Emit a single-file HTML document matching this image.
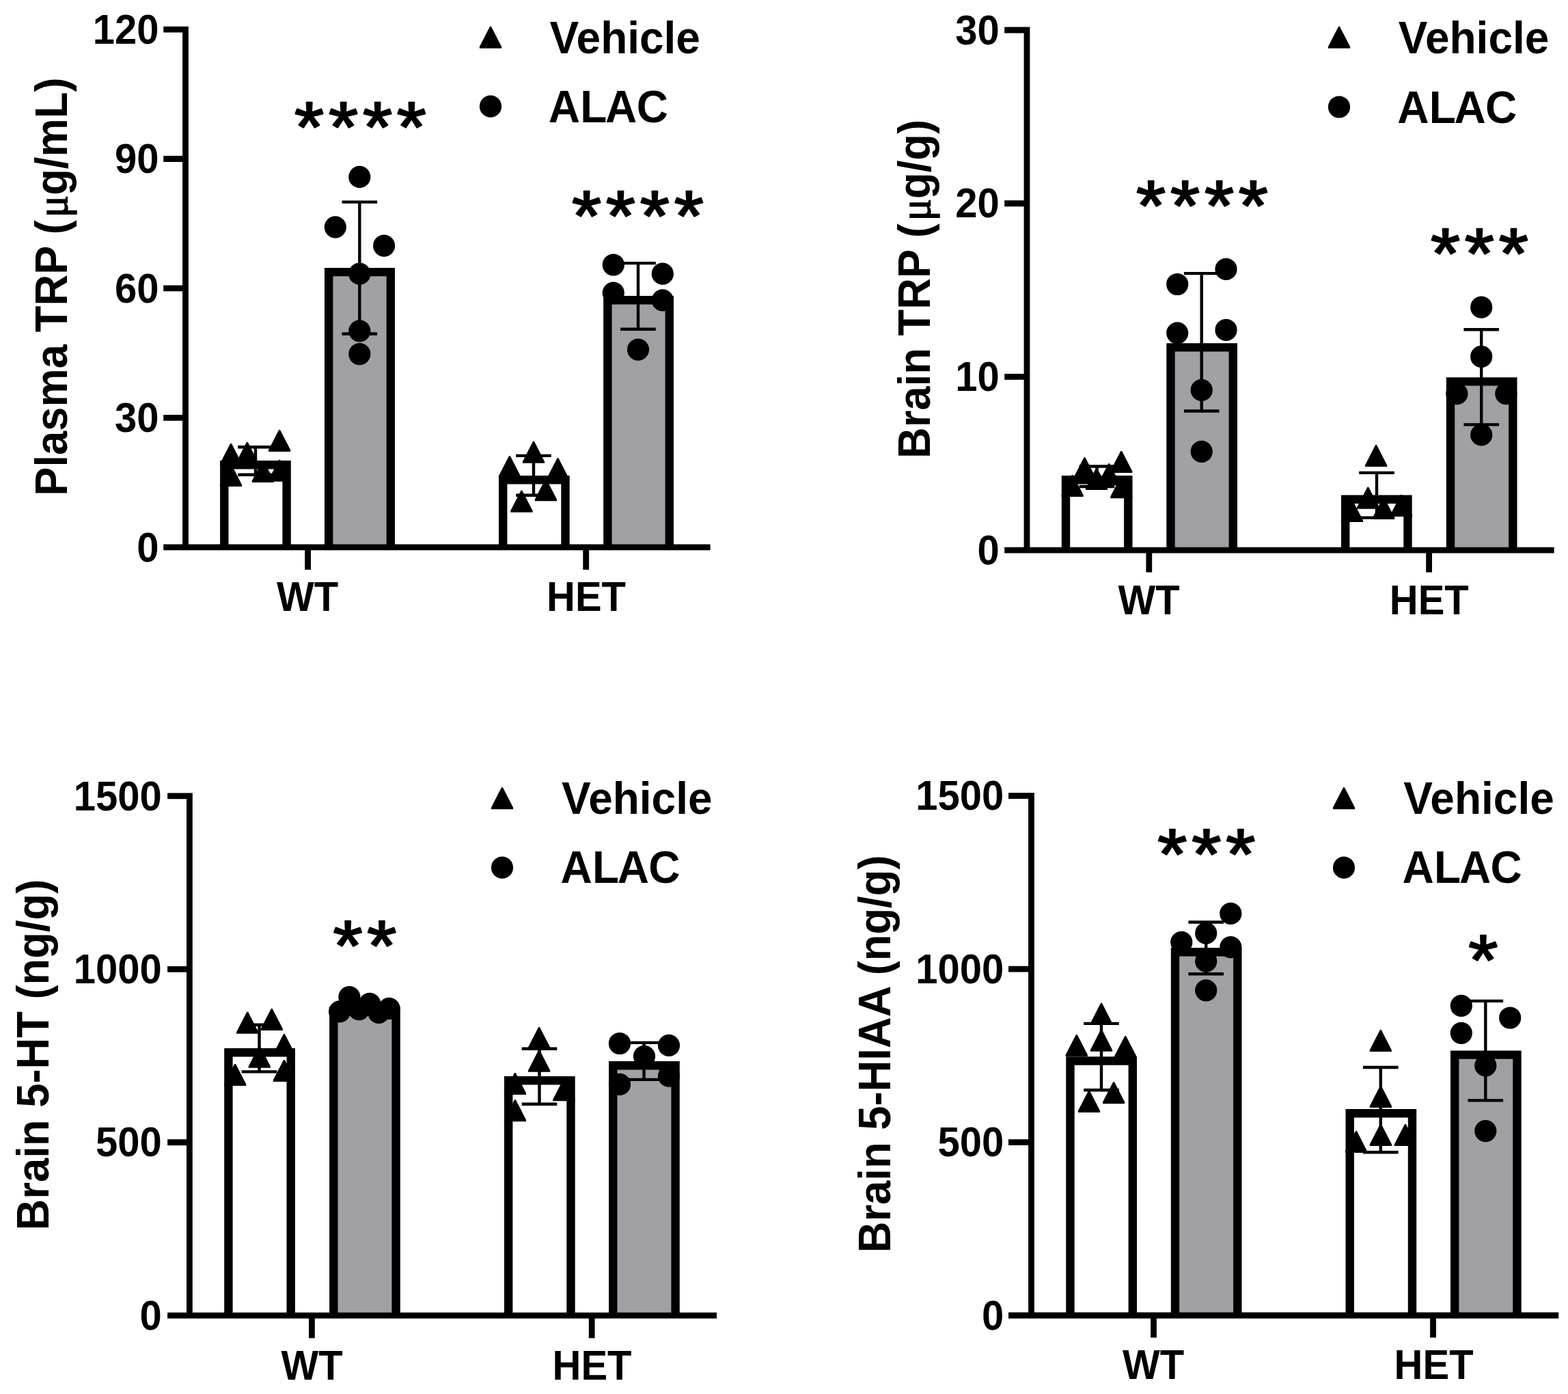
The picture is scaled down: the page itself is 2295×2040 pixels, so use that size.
<!DOCTYPE html>
<html lang="en"><head><meta charset="utf-8"><title>TRP, 5-HT and 5-HIAA levels: Vehicle vs ALAC in WT and HET</title>
<style>html,body{margin:0;padding:0;background:#fff}body{width:2295px;height:2040px;overflow:hidden}svg{display:block}text{font-family:"Liberation Sans",sans-serif;font-weight:bold;fill:#000}.t{font-size:58px}.l{font-size:64px}.s{font-size:103.5px;font-weight:normal;letter-spacing:6.41px;stroke:#000;stroke-width:2.4;stroke-linejoin:round}.mu{font-family:"Liberation Serif",serif;font-weight:normal;font-size:61px;stroke:#000;stroke-width:1.5}</style></head><body>
<svg width="2295" height="2040" viewBox="0 0 2295 2040" role="img" aria-label="Bar charts of plasma TRP, brain TRP, brain 5-HT and brain 5-HIAA for Vehicle and ALAC in WT and HET mice">
<rect width="2295" height="2040" fill="#fff"/>
<g id="p1">
<g stroke="#000" stroke-width="12.4">
<path d="M328.3 800.8V680.2H419.6V800.8" fill="#fff"/>
<path d="M481.2 800.8V398.1H571.8V800.8" fill="#a1a0a5"/>
<path d="M736.2 800.8V702.2H827.5V800.8" fill="#fff"/>
<path d="M889.4 800.8V439.2H979.8V800.8" fill="#a1a0a5"/>
</g>
<path d="M348.2 654.3H399.8M374 654.3V694.7M348.2 694.7H399.8M500.5 295.6H552.1M526.3 295.6V488.5M500.5 488.5H552.1M755.2 666.9H806.8M781 666.9V724.7M755.2 724.7H806.8M908.2 385.1H959.8M934 385.1V481.7M908.2 481.7H959.8" fill="none" stroke="#000" stroke-width="4.4"/>
<g fill="#000">
<polygon points="337.1,649 338.9,649 354.1,678.6 354.1,681 321.9,681 321.9,678.6"/>
<polygon points="360.9,647 362.7,647 377.9,676.6 377.9,679 345.7,679 345.7,676.6"/>
<polygon points="408.2,629 410,629 425.2,658.6 425.2,661 393,661 393,658.6"/>
<polygon points="337.1,680 338.9,680 354.1,709.6 354.1,712 321.9,712 321.9,709.6"/>
<polygon points="384,674 385.8,674 401,703.6 401,706 368.8,706 368.8,703.6"/>
<polygon points="408.2,672.8 410,672.8 425.2,702.4 425.2,704.8 393,704.8 393,702.4"/>
<polygon points="780.1,645.8 781.9,645.8 797.1,675.4 797.1,677.8 764.9,677.8 764.9,675.4"/>
<polygon points="745,667.2 746.8,667.2 762,696.8 762,699.2 729.8,699.2 729.8,696.8"/>
<polygon points="815.6,670.2 817.4,670.2 832.6,699.8 832.6,702.2 800.4,702.2 800.4,699.8"/>
<polygon points="798,701.2 799.8,701.2 815,730.8 815,733.2 782.8,733.2 782.8,730.8"/>
<polygon points="762.5,717.7 764.3,717.7 779.5,747.3 779.5,749.7 747.3,749.7 747.3,747.3"/>
<circle cx="526.3" cy="258.9" r="16.1"/>
<circle cx="490.8" cy="332.3" r="16.1"/>
<circle cx="562.1" cy="359.6" r="16.1"/>
<circle cx="526.3" cy="400.7" r="16.1"/>
<circle cx="526.3" cy="484.3" r="16.1"/>
<circle cx="526.3" cy="518.1" r="16.1"/>
<circle cx="897.8" cy="387.5" r="16.1"/>
<circle cx="969.8" cy="400.7" r="16.1"/>
<circle cx="897.8" cy="428.6" r="16.1"/>
<circle cx="969.8" cy="439.4" r="16.1"/>
<circle cx="934" cy="511.6" r="16.1"/>
</g>
<path d="M271.5 38.7V805.2M239.2 800.8H1039.6M239.2 43.1H271.5M239.2 232.52H271.5M239.2 421.95H271.5M239.2 611.38H271.5M450.6 800.8V833.7M857.7 800.8V833.7" fill="none" stroke="#000" stroke-width="8.8"/>
<g class="t" text-anchor="end">
<text transform="translate(232.4 63.8) scale(1 1.04)">120</text>
<text transform="translate(232.4 253.22) scale(1 1.04)">90</text>
<text transform="translate(232.4 442.65) scale(1 1.04)">60</text>
<text transform="translate(232.4 632.08) scale(1 1.04)">30</text>
<text transform="translate(232.4 821.5) scale(1 1.04)">0</text>
</g>
<g class="t" text-anchor="middle">
<text transform="translate(450 893.8) scale(1 1.04)">WT</text>
<text transform="translate(858 893.8) scale(1 1.04)">HET</text>
</g>
<text class="l" text-anchor="middle" transform="translate(98.3 419.6) rotate(-90) scale(0.99 1.04)">Plasma TRP (<tspan class="mu" dx="3.9">μ</tspan>g/mL)</text>
<polygon points="717.1,38.7 718.9,38.7 734.1,68.3 734.1,70.7 701.9,70.7 701.9,68.3"/>
<circle cx="718" cy="155.7" r="16.1"/>
<text class="l" transform="translate(804.4 77.8) scale(1 1.04)">Vehicle</text>
<text class="l" transform="translate(802.8 179) scale(1 1.04)" dx="0 0.3 -2.3 -0.7">ALAC</text>
<text class="s" transform="translate(431 222.3) scale(1.07 1)">****</text>
<text class="s" transform="translate(836.9 351.9) scale(1.07 1)">****</text>
</g>
<g id="p2">
<g stroke="#000" stroke-width="12.4">
<path d="M1560 805.2V702.2H1651.3V805.2" fill="#fff"/>
<path d="M1713.5 805.2V508.4H1804.8V805.2" fill="#a1a0a5"/>
<path d="M1969.2 805.2V730.7H2060.5V805.2" fill="#fff"/>
<path d="M2123 805.2V558.4H2214.3V805.2" fill="#a1a0a5"/>
</g>
<path d="M1579.7 682.5H1631.3M1605.5 682.5V712M1579.7 712H1631.3M1732.9 400.1H1784.5M1758.7 400.1V601.5M1732.9 601.5H1784.5M1989.2 691.9H2040.8M2015 691.9V757.6M1989.2 757.6H2040.8M2142.4 482.3H2194M2168.2 482.3V621.4M2142.4 621.4H2194" fill="none" stroke="#000" stroke-width="4.4"/>
<g fill="#000">
<polygon points="1586.6,669.2 1588.4,669.2 1603.6,698.8 1603.6,701.2 1571.4,701.2 1571.4,698.8"/>
<polygon points="1640.3,660 1642.1,660 1657.3,689.6 1657.3,692 1625.1,692 1625.1,689.6"/>
<polygon points="1622.3,678.3 1624.1,678.3 1639.3,707.9 1639.3,710.3 1607.1,710.3 1607.1,707.9"/>
<polygon points="1604.1,685.1 1605.9,685.1 1621.1,714.7 1621.1,717.1 1588.9,717.1 1588.9,714.7"/>
<polygon points="1568.7,695 1570.5,695 1585.7,724.6 1585.7,727 1553.5,727 1553.5,724.6"/>
<polygon points="1640.4,697.2 1642.2,697.2 1657.4,726.8 1657.4,729.2 1625.2,729.2 1625.2,726.8"/>
<polygon points="2013.2,651.1 2015,651.1 2030.2,680.7 2030.2,683.1 1998,683.1 1998,680.7"/>
<polygon points="2001.4,712.7 2003.2,712.7 2018.4,742.3 2018.4,744.7 1986.2,744.7 1986.2,742.3"/>
<polygon points="1978,732 1979.8,732 1995,761.6 1995,764 1962.8,764 1962.8,761.6"/>
<polygon points="2024.2,727.9 2026,727.9 2041.2,757.5 2041.2,759.9 2009,759.9 2009,757.5"/>
<polygon points="2050.1,723.9 2051.9,723.9 2067.1,753.5 2067.1,755.9 2034.9,755.9 2034.9,753.5"/>
<circle cx="1794.5" cy="393.9" r="16.1"/>
<circle cx="1723.2" cy="416" r="16.1"/>
<circle cx="1723.2" cy="487.3" r="16.1"/>
<circle cx="1794.5" cy="482.9" r="16.1"/>
<circle cx="1758.7" cy="570.9" r="16.1"/>
<circle cx="1758.7" cy="660.8" r="16.1"/>
<circle cx="2168.2" cy="449.7" r="16.1"/>
<circle cx="2168.2" cy="521.9" r="16.1"/>
<circle cx="2132.4" cy="576.2" r="16.1"/>
<circle cx="2204.3" cy="576.2" r="16.1"/>
<circle cx="2168.2" cy="636.4" r="16.1"/>
</g>
<path d="M1503 39.6V809.6M1470.2 805.2H2274.7M1470.2 44H1503M1470.2 297.73H1503M1470.2 551.47H1503M1681.8 805.2V837.5M2091.6 805.2V837.5" fill="none" stroke="#000" stroke-width="8.8"/>
<g class="t" text-anchor="end">
<text transform="translate(1462.8 64.7) scale(1 1.04)">30</text>
<text transform="translate(1462.8 318.43) scale(1 1.04)">20</text>
<text transform="translate(1462.8 572.17) scale(1 1.04)">10</text>
<text transform="translate(1462.8 825.9) scale(1 1.04)">0</text>
</g>
<g class="t" text-anchor="middle">
<text transform="translate(1681.5 898.5) scale(1 1.04)">WT</text>
<text transform="translate(2091.8 898.5) scale(1 1.04)">HET</text>
</g>
<text class="l" text-anchor="middle" transform="translate(1361 422.9) rotate(-90) scale(0.99 1.04)">Brain TRP (<tspan class="mu" dx="3.9">μ</tspan>g/g)</text>
<polygon points="1959.1,38.7 1960.9,38.7 1976.1,68.3 1976.1,70.7 1943.9,70.7 1943.9,68.3"/>
<circle cx="1960" cy="156.5" r="16.1"/>
<text class="l" transform="translate(2046.8 77.8) scale(1 1.04)">Vehicle</text>
<text class="l" transform="translate(2045.2 179.8) scale(1 1.04)" dx="0 0.3 -2.3 -0.7">ALAC</text>
<text class="s" transform="translate(1663 337.3) scale(1.07 1)">****</text>
<text class="s" transform="translate(2093.9 407.3) scale(1.07 1)">***</text>
</g>
<g id="p3">
<g stroke="#000" stroke-width="12.4">
<path d="M334.4 1925.2V1540.2H425.7V1925.2" fill="#fff"/>
<path d="M488.3 1925.2V1479.4H579.6V1925.2" fill="#a1a0a5"/>
<path d="M744.2 1925.2V1581.2H835.5V1925.2" fill="#fff"/>
<path d="M897.3 1925.2V1559.3H988.6V1925.2" fill="#a1a0a5"/>
</g>
<path d="M353.7 1499.8H405.3M379.5 1499.8V1568.4M353.7 1568.4H405.3M763.7 1534.8H815.3M789.5 1534.8V1615.7M763.7 1615.7H815.3M916.7 1525.9H968.3M942.5 1525.9V1579.9M916.7 1579.9H968.3" fill="none" stroke="#000" stroke-width="4.4"/>
<g fill="#000">
<polygon points="361.3,1480.7 363.1,1480.7 378.3,1510.3 378.3,1512.7 346.1,1512.7 346.1,1510.3"/>
<polygon points="396.9,1475.9 398.7,1475.9 413.9,1505.5 413.9,1507.9 381.7,1507.9 381.7,1505.5"/>
<polygon points="415,1513 416.8,1513 432,1542.6 432,1545 399.8,1545 399.8,1542.6"/>
<polygon points="378.9,1530.8 380.7,1530.8 395.9,1560.4 395.9,1562.8 363.7,1562.8 363.7,1560.4"/>
<polygon points="415,1550.9 416.8,1550.9 432,1580.5 432,1582.9 399.8,1582.9 399.8,1580.5"/>
<polygon points="343.2,1557 345,1557 360.2,1586.6 360.2,1589 328,1589 328,1586.6"/>
<polygon points="788.2,1503 790,1503 805.2,1532.6 805.2,1535 773,1535 773,1532.6"/>
<polygon points="788.2,1536.8 790,1536.8 805.2,1566.4 805.2,1568.8 773,1568.8 773,1566.4"/>
<polygon points="753,1570 754.8,1570 770,1599.6 770,1602 737.8,1602 737.8,1599.6"/>
<polygon points="824.5,1579.2 826.3,1579.2 841.5,1608.8 841.5,1611.2 809.3,1611.2 809.3,1608.8"/>
<polygon points="753,1609.2 754.8,1609.2 770,1638.8 770,1641.2 737.8,1641.2 737.8,1638.8"/>
<circle cx="511.4" cy="1459.1" r="16.1"/>
<circle cx="497.1" cy="1480.3" r="16.1"/>
<circle cx="541.1" cy="1468.8" r="16.1"/>
<circle cx="525.4" cy="1477.1" r="16.1"/>
<circle cx="554.4" cy="1481.8" r="16.1"/>
<circle cx="569.5" cy="1475.9" r="16.1"/>
<circle cx="907" cy="1527" r="16.1"/>
<circle cx="979" cy="1529.8" r="16.1"/>
<circle cx="943" cy="1545.8" r="16.1"/>
<circle cx="907" cy="1586.9" r="16.1"/>
<circle cx="979" cy="1574.7" r="16.1"/>
</g>
<path d="M277.4 1160.5V1929.6M245.1 1925.2H1049M245.1 1164.9H277.4M245.1 1418.33H277.4M245.1 1671.77H277.4M456.4 1925.2V1958.3M866.2 1925.2V1958.3" fill="none" stroke="#000" stroke-width="8.8"/>
<g class="t" text-anchor="end">
<text transform="translate(236.8 1185.6) scale(1 1.04)">1500</text>
<text transform="translate(236.8 1439.03) scale(1 1.04)">1000</text>
<text transform="translate(236.8 1692.47) scale(1 1.04)">500</text>
<text transform="translate(236.8 1945.9) scale(1 1.04)">0</text>
</g>
<g class="t" text-anchor="middle">
<text transform="translate(456.5 2018.9) scale(1 1.04)">WT</text>
<text transform="translate(866.5 2018.9) scale(1 1.04)">HET</text>
</g>
<text class="l" text-anchor="middle" transform="translate(70.5 1543.5) rotate(-90) scale(0.99 1.04)">Brain 5-HT (ng/g)</text>
<polygon points="734.1,1152.2 735.9,1152.2 751.1,1181.8 751.1,1184.2 718.9,1184.2 718.9,1181.8"/>
<circle cx="735" cy="1269.7" r="16.1"/>
<text class="l" transform="translate(822 1191) scale(1 1.04)">Vehicle</text>
<text class="l" transform="translate(820.4 1291.7) scale(1 1.04)" dx="0 0.3 -2.3 -0.7">ALAC</text>
<text class="s" transform="translate(487.4 1420.3) scale(1.07 1)">**</text>
</g>
<g id="p4">
<g stroke="#000" stroke-width="12.4">
<path d="M1566.5 1925V1552.5H1657.8V1925" fill="#fff"/>
<path d="M1720 1925V1393.3H1811.3V1925" fill="#a1a0a5"/>
<path d="M1975.7 1925V1629.3H2067V1925" fill="#fff"/>
<path d="M2129.2 1925V1543.6H2220.5V1925" fill="#a1a0a5"/>
</g>
<path d="M1586.2 1497.9H1637.8M1612 1497.9V1595.2M1586.2 1595.2H1637.8M1739.4 1349.5H1791M1765.2 1349.5V1425.2M1739.4 1425.2H1791M1995 1562H2046.6M2020.8 1562V1686.2M1995 1686.2H2046.6M2148.5 1464.9H2200.1M2174.3 1464.9V1610.4M2148.5 1610.4H2200.1" fill="none" stroke="#000" stroke-width="4.4"/>
<g fill="#000">
<polygon points="1611.1,1467.8 1612.9,1467.8 1628.1,1497.4 1628.1,1499.8 1595.9,1499.8 1595.9,1497.4"/>
<polygon points="1574.9,1513.9 1576.7,1513.9 1591.9,1543.5 1591.9,1545.9 1559.7,1545.9 1559.7,1543.5"/>
<polygon points="1611.1,1506.8 1612.9,1506.8 1628.1,1536.4 1628.1,1538.8 1595.9,1538.8 1595.9,1536.4"/>
<polygon points="1646.3,1516 1648.1,1516 1663.3,1545.6 1663.3,1548 1631.1,1548 1631.1,1545.6"/>
<polygon points="1629.2,1583.2 1631,1583.2 1646.2,1612.8 1646.2,1615.2 1614,1615.2 1614,1612.8"/>
<polygon points="1593.1,1596 1594.9,1596 1610.1,1625.6 1610.1,1628 1577.9,1628 1577.9,1625.6"/>
<polygon points="2019.9,1507.1 2021.7,1507.1 2036.9,1536.7 2036.9,1539.1 2004.7,1539.1 2004.7,1536.7"/>
<polygon points="2020,1588.9 2021.8,1588.9 2037,1618.5 2037,1620.9 2004.8,1620.9 2004.8,1618.5"/>
<polygon points="2020,1645 2021.8,1645 2037,1674.6 2037,1677 2004.8,1677 2004.8,1674.6"/>
<polygon points="2056,1645.1 2057.8,1645.1 2073,1674.7 2073,1677.1 2040.8,1677.1 2040.8,1674.7"/>
<polygon points="1984.1,1655.1 1985.9,1655.1 2001.1,1684.7 2001.1,1687.1 1968.9,1687.1 1968.9,1684.7"/>
<circle cx="1801.3" cy="1336.9" r="16.1"/>
<circle cx="1765.2" cy="1365.7" r="16.1"/>
<circle cx="1729.3" cy="1378.9" r="16.1"/>
<circle cx="1801.3" cy="1386.2" r="16.1"/>
<circle cx="1765.2" cy="1406.7" r="16.1"/>
<circle cx="1765.2" cy="1449.3" r="16.1"/>
<circle cx="2138.8" cy="1471.9" r="16.1"/>
<circle cx="2210.2" cy="1489.5" r="16.1"/>
<circle cx="2138.8" cy="1511.8" r="16.1"/>
<circle cx="2174.3" cy="1559.4" r="16.1"/>
<circle cx="2174.3" cy="1655.1" r="16.1"/>
</g>
<path d="M1509.5 1160.2V1929.4M1476 1925H2281.2M1476 1164.6H1509.5M1476 1418.07H1509.5M1476 1671.53H1509.5M1688.5 1925V1957.4M2097.5 1925V1957.4" fill="none" stroke="#000" stroke-width="8.8"/>
<g class="t" text-anchor="end">
<text transform="translate(1469.2 1185.3) scale(1 1.04)">1500</text>
<text transform="translate(1469.2 1438.77) scale(1 1.04)">1000</text>
<text transform="translate(1469.2 1692.23) scale(1 1.04)">500</text>
<text transform="translate(1469.2 1945.7) scale(1 1.04)">0</text>
</g>
<g class="t" text-anchor="middle">
<text transform="translate(1688.1 2018) scale(1 1.04)">WT</text>
<text transform="translate(2098.6 2018) scale(1 1.04)">HET</text>
</g>
<text class="l" text-anchor="middle" transform="translate(1302.8 1542.4) rotate(-90) scale(0.99 1.04)">Brain 5-HIAA (ng/g)</text>
<polygon points="1966.1,1152.2 1967.9,1152.2 1983.1,1181.8 1983.1,1184.2 1950.9,1184.2 1950.9,1181.8"/>
<circle cx="1967" cy="1269.7" r="16.1"/>
<text class="l" transform="translate(2054.2 1191) scale(1 1.04)">Vehicle</text>
<text class="l" transform="translate(2052.6 1291.7) scale(1 1.04)" dx="0 0.3 -2.3 -0.7">ALAC</text>
<text class="s" transform="translate(1694.3 1285.6) scale(1.07 1)">***</text>
<text class="s" transform="translate(2149.2 1440.9) scale(1.07 1)">*</text>
</g>
</svg></body></html>
